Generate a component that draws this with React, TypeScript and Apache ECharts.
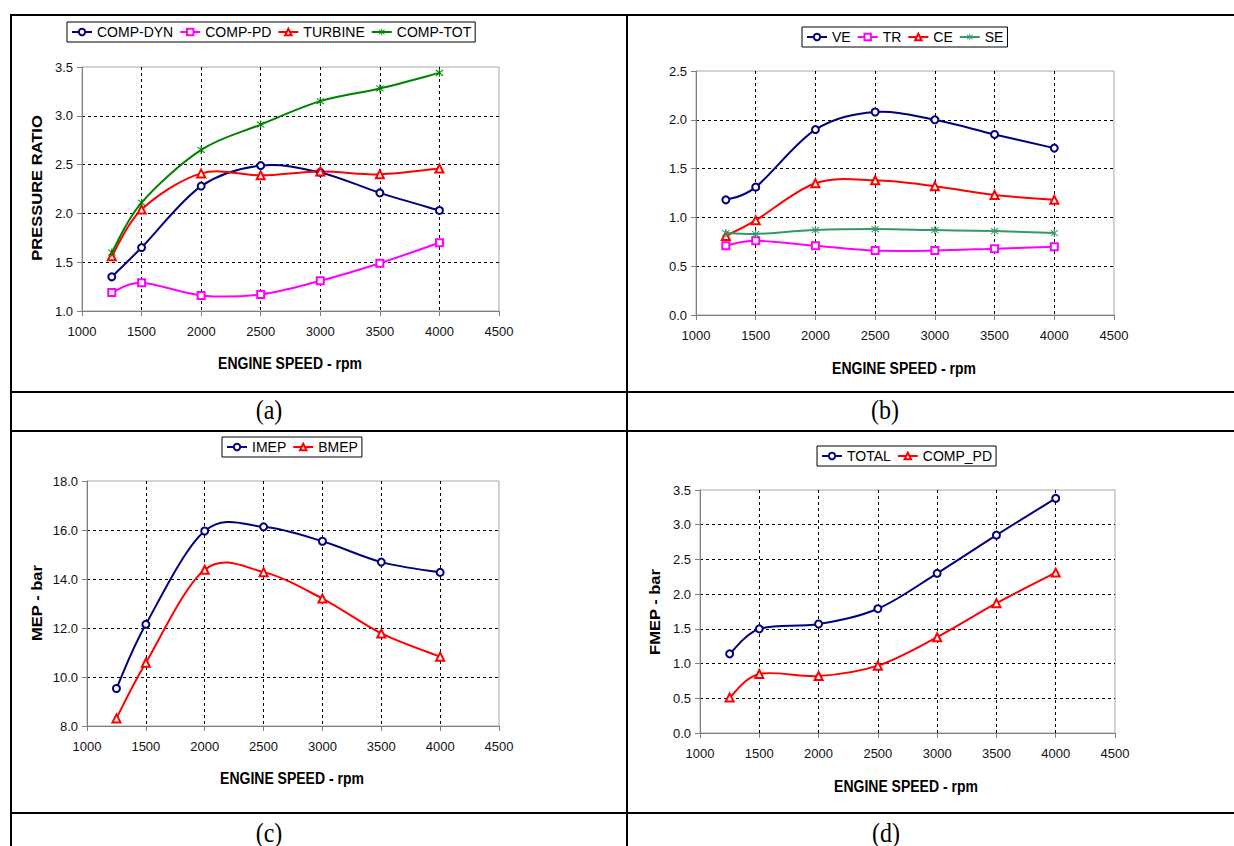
import React, { useEffect, useRef } from 'react';
import * as echarts from 'echarts';

// ---------- data ----------
const rpm = [1250, 1500, 2000, 2500, 3000, 3500, 4000];
// (a) pressure ratio
const compDyn = [1.35, 1.65, 2.28, 2.49, 2.42, 2.21, 2.03];
const compPd = [1.19, 1.29, 1.16, 1.17, 1.31, 1.49, 1.7];
const turbine = [1.56, 2.04, 2.41, 2.39, 2.43, 2.4, 2.46];
const compTot = [1.6, 2.11, 2.65, 2.91, 3.15, 3.28, 3.44];
// (b) efficiencies
const ve = [1.18, 1.31, 1.9, 2.08, 2.0, 1.85, 1.71];
const tr = [0.71, 0.76, 0.71, 0.66, 0.66, 0.68, 0.7];
const ce = [0.81, 0.97, 1.35, 1.38, 1.32, 1.23, 1.18];
const se = [0.84, 0.83, 0.87, 0.88, 0.87, 0.86, 0.84];
// (c) MEP
const imep = [9.53, 12.15, 15.96, 16.13, 15.54, 14.69, 14.27];
const bmep = [8.31, 10.58, 14.38, 14.28, 13.2, 11.78, 10.83];
// (d) FMEP
const fmepTotal = [1.14, 1.5, 1.57, 1.79, 2.3, 2.85, 3.38];
const fmepCompPd = [0.51, 0.85, 0.82, 0.97, 1.38, 1.87, 2.31];

const xMin = 1000;
const xMax = 4500;
const xInterval = 500;
const xTitle = 'ENGINE SPEED - rpm';
const panelLabels = ['(a)', '(b)', '(c)', '(d)'];

// ---------- styles ----------
const FONT = '"Liberation Sans", Arial, Helvetica, sans-serif';
const SERIF = '"Liberation Serif", "Times New Roman", serif';
const NAVY = '#000080';
const MAGENTA = '#ff00ff';
const RED = '#ff0000';
const GREEN = '#008000';
const TEAL = '#339966';
const STAR =
  'path://M4.4,0 H5.6 V10 H4.4 Z M0.9,1.7 L1.7,0.9 L9.1,8.3 L8.3,9.1 Z M8.3,0.9 L9.1,1.7 L1.7,9.1 L0.9,8.3 Z';

type S = { name: string; data: number[]; color: string; symbol: string; size: number };
type Panel = {
  l: number; t: number; w: number; h: number;
  yMin: number; yMax: number; yInt: number;
  legendCx: number; legendTop: number;
  series: S[];
  yTitle?: string; yTitleX?: number; yTitleY?: number;
  xTitleX: number; xTitleY: number;
  labelX: number; labelY: number;
};

const circ = (name: string, data: number[], color: string): S => ({ name, data, color, symbol: 'emptyCircle', size: 7 });
const rect = (name: string, data: number[], color: string): S => ({ name, data, color, symbol: 'emptyRect', size: 7 });
const tri = (name: string, data: number[], color: string): S => ({ name, data, color, symbol: 'emptyTriangle', size: 8 });
const star = (name: string, data: number[], color: string): S => ({ name, data, color, symbol: STAR, size: 8 });

const panels: Panel[] = [
  {
    l: 82, t: 67, w: 417, h: 244, yMin: 1, yMax: 3.5, yInt: 0.5,
    legendCx: 270, legendTop: 22,
    series: [circ('COMP-DYN', compDyn, NAVY), rect('COMP-PD', compPd, MAGENTA), tri('TURBINE', turbine, RED), star('COMP-TOT', compTot, GREEN)],
    yTitle: 'PRESSURE RATIO', yTitleX: 37, yTitleY: 188,
    xTitleX: 290, xTitleY: 363, labelX: 269, labelY: 410,
  },
  {
    l: 696, t: 71, w: 418, h: 244, yMin: 0, yMax: 2.5, yInt: 0.5,
    legendCx: 904, legendTop: 27,
    series: [circ('VE', ve, NAVY), rect('TR', tr, MAGENTA), tri('CE', ce, RED), star('SE', se, TEAL)],
    xTitleX: 904, xTitleY: 368, labelX: 885, labelY: 410,
  },
  {
    l: 87, t: 481, w: 412, h: 245, yMin: 8, yMax: 18, yInt: 2,
    legendCx: 292, legendTop: 437,
    series: [circ('IMEP', imep, NAVY), tri('BMEP', bmep, RED)],
    yTitle: 'MEP - bar', yTitleX: 37, yTitleY: 603,
    xTitleX: 292, xTitleY: 778, labelX: 269, labelY: 833,
  },
  {
    l: 700, t: 490, w: 415, h: 243, yMin: 0, yMax: 3.5, yInt: 0.5,
    legendCx: 907, legendTop: 446,
    series: [circ('TOTAL', fmepTotal, NAVY), tri('COMP_PD', fmepCompPd, RED)],
    yTitle: 'FMEP - bar', yTitleX: 655, yTitleY: 612,
    xTitleX: 906, xTitleY: 786, labelX: 886, labelY: 833,
  },
];

const LEG_FONT = 14;
const LEG_ITEM_W = 20;
const LEG_GAP = 6;
const LEG_PAD = [3, 4];

function measure(text: string, font: string): number {
  const c = document.createElement('canvas').getContext('2d');
  if (!c) return text.length * 8;
  c.font = font;
  return c.measureText(text).width;
}

// Excel-style smoothed curve (Catmull-Rom Bezier) through the data points, drawn in pixel space.
function curveSeries(name: string, ys: number[], color: string, idx: number) {
  return {
    type: 'custom',
    name: name + ' curve',
    coordinateSystem: 'cartesian2d',
    xAxisIndex: idx,
    yAxisIndex: idx,
    silent: true,
    z: 3,
    data: rpm.map((x, k) => [x, ys[k]]),
    renderItem: (params: any, api: any) => {
      if (params.dataIndex !== 0) return null;
      const pts = rpm.map((x, k) => api.coord([x, ys[k]]));
      const n = pts.length;
      let d = `M${pts[0][0]},${pts[0][1]}`;
      for (let k = 0; k < n - 1; k++) {
        const p0 = pts[Math.max(k - 1, 0)];
        const p1 = pts[k];
        const p2 = pts[k + 1];
        const p3 = pts[Math.min(k + 2, n - 1)];
        const c1x = p1[0] + (p2[0] - p0[0]) / 6;
        const c1y = p1[1] + (p2[1] - p0[1]) / 6;
        const c2x = p2[0] - (p3[0] - p1[0]) / 6;
        const c2y = p2[1] - (p3[1] - p1[1]) / 6;
        d += ` C${c1x},${c1y} ${c2x},${c2y} ${p2[0]},${p2[1]}`;
      }
      return {
        type: 'path',
        shape: { pathData: d },
        style: { stroke: color, lineWidth: 2, fill: 'none', lineJoin: 'round' },
      };
    },
  };
}

export default function App() {
  const ref = useRef<HTMLDivElement>(null);

  useEffect(() => {
    document.body.style.margin = '0';
    if (!ref.current) return;
    const chart = echarts.init(ref.current, undefined, { renderer: 'svg' });

    const legends = panels.map((p) => {
      const names = p.series.map((s) => s.name);
      const w =
        names.reduce((acc, n) => acc + LEG_ITEM_W + 5 + measure(n, `${LEG_FONT}px ${FONT}`), 0) +
        LEG_GAP * (names.length - 1) + LEG_PAD[1] * 2 + 2;
      return {
        data: p.series.map((s) => ({ name: s.name, lineStyle: { opacity: 1, width: 2, color: s.color } })),
        left: Math.round(p.legendCx - w / 2),
        top: p.legendTop,
        orient: 'horizontal',
        padding: LEG_PAD,
        itemGap: LEG_GAP,
        itemWidth: LEG_ITEM_W,
        itemHeight: 8,
        borderColor: '#000',
        borderWidth: 1,
        backgroundColor: '#fff',
        selectedMode: false,
        textStyle: { fontSize: LEG_FONT, fontFamily: FONT, color: '#000' },
      };
    });

    const series: any[] = [];
    panels.forEach((p, i) => {
      p.series.forEach((s) => {
        series.push(curveSeries(s.name, s.data, s.color, i));
        series.push({
          type: 'line',
          name: s.name,
          xAxisIndex: i,
          yAxisIndex: i,
          data: rpm.map((x, k) => [x, s.data[k]]),
          smooth: false,
          symbol: s.symbol,
          symbolSize: s.size,
          showSymbol: true,
          color: s.color,
          lineStyle: { color: s.color, width: 2, opacity: 0 },
          itemStyle: { color: s.color, borderWidth: 1 },
          emphasis: { disabled: true },
          z: 4,
        });
      });
    });

    const graphic: any[] = [];
    const L = (x1: number, y1: number, x2: number, y2: number) =>
      graphic.push({ type: 'line', shape: { x1, y1, x2, y2 }, style: { stroke: '#000', lineWidth: 2 }, z: 10 });
    L(11, 15, 1234, 15);
    L(11, 14, 11, 846);
    L(627, 14, 627, 846);
    L(11, 392, 1234, 392);
    L(11, 431, 1234, 431);
    L(11, 813, 1234, 813);

    panels.forEach((p, i) => {
      graphic.push({
        type: 'text', x: p.xTitleX, y: p.xTitleY, scaleY: 1.18,
        style: { text: xTitle, fontSize: 14, fontWeight: 'bold', fontFamily: FONT, fill: '#000', align: 'center', verticalAlign: 'middle' },
      });
      if (p.yTitle) {
        graphic.push({
          type: 'text', x: p.yTitleX, y: p.yTitleY, rotation: Math.PI / 2, scaleX: 1.18,
          style: { text: p.yTitle, fontSize: 14, fontWeight: 'bold', fontFamily: FONT, fill: '#000', align: 'center', verticalAlign: 'middle' },
        });
      }
      graphic.push({
        type: 'text', x: p.labelX, y: p.labelY, scaleY: 1.1,
        style: { text: panelLabels[i], fontSize: 24, fontFamily: SERIF, fill: '#000', align: 'center', verticalAlign: 'middle' },
      });
    });

    chart.setOption({
      animation: false,
      backgroundColor: '#fff',
      grid: panels.map((p) => ({
        left: p.l, top: p.t, width: p.w, height: p.h,
        show: true, borderColor: '#a6a6a6', borderWidth: 1, backgroundColor: 'transparent',
      })),
      xAxis: panels.map((p, i) => ({
        type: 'value', gridIndex: i, min: xMin, max: xMax, interval: xInterval,
        axisLine: { show: true, onZero: false, lineStyle: { color: '#808080', width: 1 } },
        axisTick: { show: true, length: 5, lineStyle: { color: '#808080' } },
        axisLabel: { margin: 14, fontSize: 13, fontFamily: FONT, color: '#111', formatter: (v: number) => String(v) },
        splitLine: { show: true, showMinLine: false, showMaxLine: false, lineStyle: { color: '#000', width: 1, type: [3, 3] } },
      })),
      yAxis: panels.map((p, i) => ({
        type: 'value', gridIndex: i, min: p.yMin, max: p.yMax, interval: p.yInt,
        axisLine: { show: true, onZero: false, lineStyle: { color: '#808080', width: 1 } },
        axisTick: { show: true, length: 5, lineStyle: { color: '#808080' } },
        axisLabel: { margin: 9, fontSize: 13, fontFamily: FONT, color: '#111', formatter: (v: number) => v.toFixed(1) },
        splitLine: { show: true, showMinLine: false, showMaxLine: false, lineStyle: { color: '#000', width: 1, type: [3, 3] } },
      })),
      legend: legends,
      series,
      graphic,
    });

    return () => chart.dispose();
  }, []);

  return <div ref={ref} style={{ width: 1234, height: 846, background: '#fff' }} />;
}
